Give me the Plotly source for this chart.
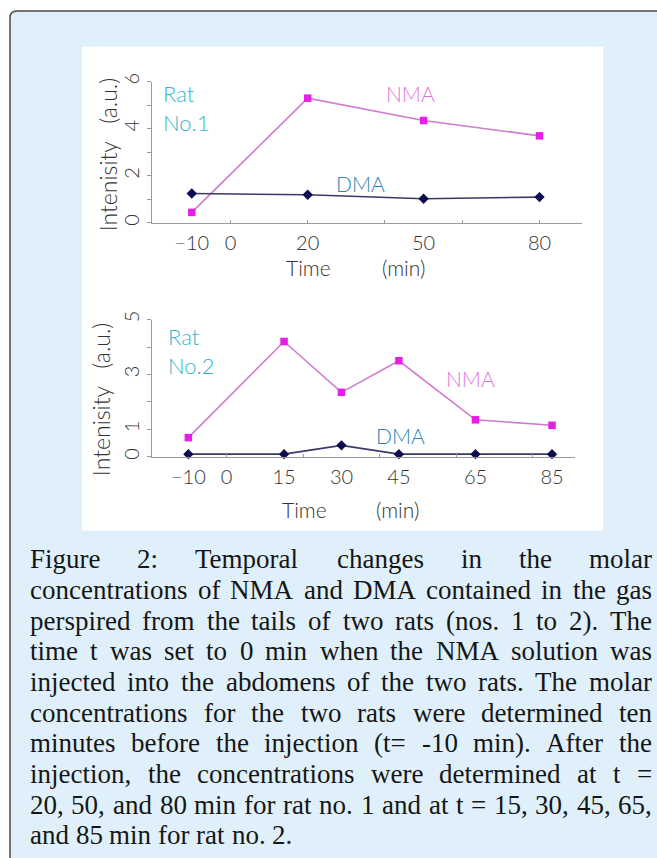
import plotly.graph_objects as go

# ---------------- data ----------------
time1 = [-10, 20, 50, 80]
nma1 = [0.45, 5.3, 4.35, 3.7]
dma1 = [1.25, 1.2, 1.03, 1.1]

time2 = [-10, 15, 30, 45, 65, 85]
nma2 = [0.7, 4.2, 2.35, 3.5, 1.35, 1.15]
dma2 = [0.1, 0.1, 0.42, 0.1, 0.1, 0.1]

xtick1 = [-10, 0, 20, 50, 80]
xtick2 = [-10, 0, 15, 30, 45, 65, 85]
xminor = [0, 20, 40, 60, 80]
ytick1 = [0, 1, 2, 3, 4, 5, 6]
ytext1 = ["0", "", "2", "", "4", "", "6"]
ytick2 = [0, 1, 2, 3, 4, 5]
ytext2 = ["0", "1", "", "3", "", "5"]

caption_lines = [
    "Figure 2: Temporal changes in the molar",
    "concentrations of NMA and DMA contained in the gas",
    "perspired from the tails of two rats (nos. 1 to 2). The",
    "time t was set to 0 min when the NMA solution was",
    "injected into the abdomens of the two rats. The molar",
    "concentrations for the two rats were determined ten",
    "minutes before the injection (t= -10 min). After the",
    "injection, the concentrations were determined at t =",
    "20, 50, and 80 min for rat no. 1 and at t = 15, 30, 45, 65,",
    "and 85 min for rat no. 2.",
]

# ---------------- layout helpers ----------------
W, H = 657, 858
def px(x):
    return x / W
def py(y):
    # vertical placement in page pixels (compensates the page's top offset)
    yd = (y - 8) * H / (H - 8)
    return 1 - yd / H

NMA_LINE = "#cf7ccc"
NMA_MARK = "#e61ee6"
DMA_LINE = "#3a3a66"
DMA_MARK = "#0c0c4e"
CHART_FONT = "Lato"
TICK_COLOR = "#333333"
AXIS_COLOR = "#9a9a9a"

fig = go.Figure()

fig.add_trace(go.Scatter(x=time1, y=nma1, mode="lines+markers", xaxis="x", yaxis="y",
                         line=dict(color=NMA_LINE, width=1.6),
                         marker=dict(symbol="square", size=7.5, color=NMA_MARK),
                         showlegend=False, cliponaxis=False))
fig.add_trace(go.Scatter(x=time1, y=dma1, mode="lines+markers", xaxis="x", yaxis="y",
                         line=dict(color=DMA_LINE, width=1.6),
                         marker=dict(symbol="diamond", size=8, color=DMA_MARK),
                         showlegend=False, cliponaxis=False))
fig.add_trace(go.Scatter(x=time2, y=nma2, mode="lines+markers", xaxis="x2", yaxis="y2",
                         line=dict(color=NMA_LINE, width=1.6),
                         marker=dict(symbol="square", size=7.5, color=NMA_MARK),
                         showlegend=False, cliponaxis=False))
fig.add_trace(go.Scatter(x=time2, y=dma2, mode="lines+markers", xaxis="x2", yaxis="y2",
                         line=dict(color=DMA_LINE, width=1.6),
                         marker=dict(symbol="diamond", size=8, color=DMA_MARK),
                         showlegend=False, cliponaxis=False))
fig.add_trace(go.Scatter(x=[], y=[], xaxis="x3", yaxis="y", showlegend=False))
fig.add_trace(go.Scatter(x=[], y=[], xaxis="x4", yaxis="y2", showlegend=False))

tickfont = dict(family=CHART_FONT, size=20, color=TICK_COLOR, weight=300)

dom_x1 = [px(152), px(582)]
dom_x2 = [px(152), px(575)]
rng_x1 = [-20.3, 91]
rng_x2 = [-19.5, 91]

common_x = dict(showline=True, linecolor=AXIS_COLOR, linewidth=1, showgrid=False,
                zeroline=False, ticks="", tickfont=tickfont, ticklabelstandoff=2)
common_y = dict(showline=True, linecolor=AXIS_COLOR, linewidth=1, showgrid=False,
                zeroline=False, ticks="outside", ticklen=4, tickcolor=AXIS_COLOR,
                tickangle=-90, tickfont=tickfont, tickmode="array")

fig.update_layout(
    width=W, height=H, autosize=False,
    margin=dict(l=0, r=0, t=0, b=0),
    paper_bgcolor="white", plot_bgcolor="rgba(0,0,0,0)",
    xaxis=dict(domain=dom_x1, range=rng_x1, anchor="y", tickmode="array",
               tickvals=xtick1, ticktext=[str(v).replace("-", "\u2212") for v in xtick1], **common_x),
    yaxis=dict(domain=[py(223), py(81)], range=[0, 6], anchor="x",
               tickvals=ytick1, ticktext=ytext1, **common_y),
    xaxis2=dict(domain=dom_x2, range=rng_x2, anchor="y2", tickmode="array",
                tickvals=xtick2, ticktext=[str(v).replace("-", "\u2212") for v in xtick2], **common_x),
    yaxis2=dict(domain=[py(458), py(320)], range=[0, 5], anchor="x2",
                tickvals=ytick2, ticktext=ytext2, **common_y),
    xaxis3=dict(domain=dom_x1, range=rng_x1, anchor="y", overlaying="x", showline=False,
                showgrid=False, zeroline=False, showticklabels=False, tickmode="array",
                tickvals=xminor, ticks="inside", ticklen=3, tickcolor=AXIS_COLOR),
    xaxis4=dict(domain=dom_x2, range=rng_x2, anchor="y2", overlaying="x2", showline=False,
                showgrid=False, zeroline=False, showticklabels=False, tickmode="array",
                tickvals=xminor, ticks="inside", ticklen=3, tickcolor=AXIS_COLOR),
)

# ---------------- background shapes ----------------
r = 7
L, T, R, B = 10, 10, 680, 900
path = (f"M {px(L)},{py(B)} L {px(L)},{py(T + r)} Q {px(L)},{py(T)} {px(L + r)},{py(T)} "
        f"L {px(R)},{py(T)} L {px(R)},{py(B)} Z")
fig.add_shape(type="path", path=path, xref="paper", yref="paper",
              fillcolor="#dff0fa", line=dict(color="#4a4a4a", width=1.5), layer="below")
fig.add_shape(type="rect", x0=px(82), x1=px(603), y0=py(532), y1=py(46),
              xref="paper", yref="paper", fillcolor="white", line=dict(width=0), layer="below")

# ---------------- chart labels ----------------
def label(text, x, y, color, size=21, xanchor="center", angle=0):
    fig.add_annotation(text=text, x=px(x), y=py(y), xref="paper", yref="paper",
                       xanchor=xanchor, yanchor="middle", showarrow=False, textangle=angle,
                       font=dict(family=CHART_FONT, size=size, color=color, weight=300))

CYAN = "#35b6c8"
PINK = "#e276d6"
BLUE = "#2b86b6"
TXT = "#333333"

label("Rat", 161, 93, CYAN, size=22, xanchor="left")
label("No.1", 161, 122, CYAN, size=22, xanchor="left")
label("NMA", 410, 93, PINK)
label("DMA", 360, 183, BLUE)
label("Intenisity\u2003(a.u.)", 108, 155, TXT, size=23, angle=-90)
label("Time", 308, 268, TXT, size=21)
label("(min)", 403, 268, TXT, size=21)

label("Rat", 166, 337, CYAN, size=22, xanchor="left")
label("No.2", 166, 366, CYAN, size=22, xanchor="left")
label("NMA", 470, 379, PINK)
label("DMA", 400, 437, BLUE)
label("Intenisity\u2003(a.u.)", 101, 401, TXT, size=23, angle=-90)
label("Time", 304, 511, TXT, size=21)
label("(min)", 397, 511, TXT, size=21)

# ---------------- caption (justified, Times-compatible metrics) ----------------
TW = {' ': 250, 'a': 444, 'b': 500, 'c': 444, 'd': 500, 'e': 444, 'f': 333, 'g': 500, 'h': 500,
      'i': 278, 'j': 278, 'k': 500, 'l': 278, 'm': 778, 'n': 500, 'o': 500, 'p': 500, 'q': 500,
      'r': 333, 's': 389, 't': 278, 'u': 500, 'v': 500, 'w': 722, 'x': 500, 'y': 500, 'z': 444,
      'A': 722, 'D': 722, 'F': 556, 'M': 889, 'N': 722, 'T': 611,
      '0': 500, '1': 500, '2': 500, '3': 500, '4': 500, '5': 500, '6': 500, '7': 500, '8': 500,
      '9': 500, '.': 250, ',': 250, ':': 278, '(': 333, ')': 333, '-': 333, '=': 564}
FS = 27
def wwidth(w):
    return sum(TW.get(c, 500) for c in w) / 1000 * FS

X0, X1 = 30, 652
for i, line in enumerate(caption_lines):
    words = line.split(" ")
    base = 570 + i * 30.8
    widths = [wwidth(w) for w in words]
    last = i == len(caption_lines) - 1
    if last or len(words) < 2:
        gap = 0.25 * FS
    else:
        gap = (X1 - X0 - sum(widths)) / (len(words) - 1)
    x = X0
    for w, ww in zip(words, widths):
        fig.add_annotation(text=w, x=px(x - 2), y=py(base - 9), xref="paper", yref="paper",
                           xanchor="left", yanchor="middle", showarrow=False,
                           font=dict(family="Liberation Serif", size=FS, color="#161616"))
        x += ww + gap

fig.write_html(
    "out.html",
    config={"displayModeBar": False},
    post_script=("document.documentElement.style.margin='0';document.body.style.margin='0';"
                 "var d=document.getElementById('{plot_id}');"
                 "d.style.position='fixed';d.style.left='0px';d.style.top='0px';"),
)
